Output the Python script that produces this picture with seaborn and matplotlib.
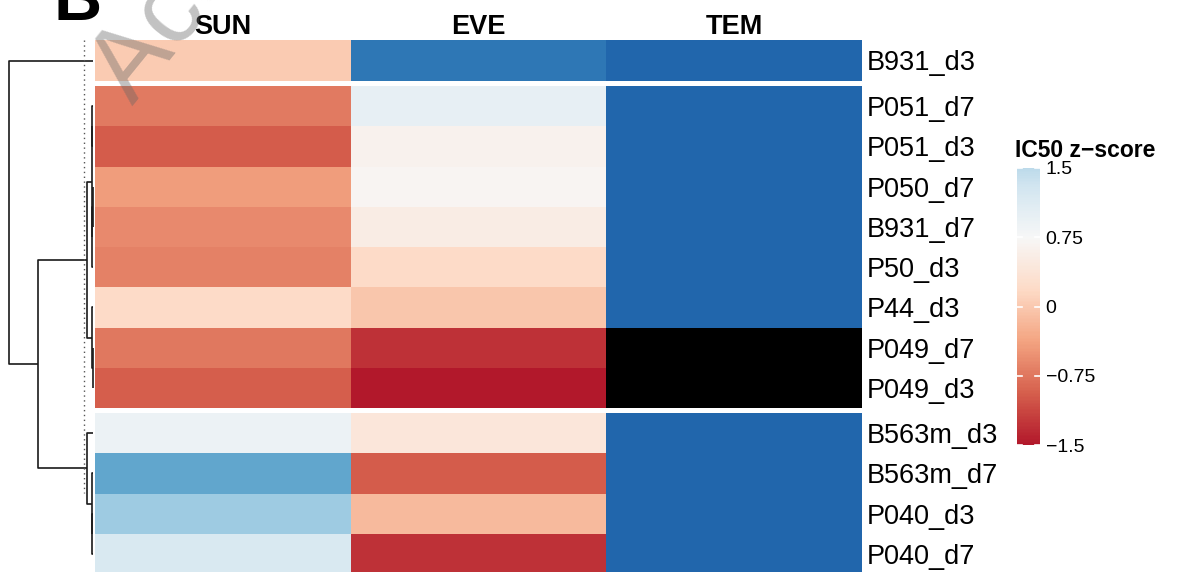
import numpy as np
import pandas as pd
import seaborn as sns
import matplotlib.pyplot as plt
from matplotlib.colors import LinearSegmentedColormap, ListedColormap, Normalize
from matplotlib.cm import ScalarMappable

plt.rcParams['font.family'] = ['Liberation Sans', 'DejaVu Sans']

# data
rows = ["B931_d3", "P051_d7", "P051_d3", "P050_d7", "B931_d7", "P50_d3", "P44_d3",
        "P049_d7", "P049_d3", "B563m_d3", "B563m_d7", "P040_d3", "P040_d7"]
cols = ["SUN", "EVE", "TEM"]
sun = [0.02, -0.71, -0.97, -0.43, -0.60, -0.66, 0.19, -0.74, -0.94, 0.92, 2.21, 1.76, 1.20]
eve = [2.78, 0.98, 0.64, 0.69, 0.53, 0.19, -0.04, -1.30, -1.49, 0.41, -0.97, -0.15, -1.29]
tem = [3.0, 3.0, 3.0, 3.0, 3.0, 3.0, 3.0, np.nan, np.nan, 3.0, 3.0, 3.0, 3.0]
group_sizes = [1, 8, 4]

# row dendrogram merges (left, right, height), new nodes numbered from 13
merges = [(1, 2, 0.07), (3, 4, 0.04), (14, 5, 0.08), (13, 15, 0.13),
          (7, 8, 0.05), (6, 17, 0.08), (16, 18, 0.6),
          (11, 12, 0.07), (10, 20, 0.13), (9, 21, 0.6),
          (19, 22, 5.5), (0, 23, 8.4)]
cut_height = 0.9

cbar_ticks = [-1.5, -0.75, 0, 0.75, 1.5]
cbar_labels = ["\u22121.5", "\u22120.75", "0", "0.75", "1.5"]

df = pd.DataFrame({"SUN": sun, "EVE": eve, "TEM": tem}, index=rows)

rdbu = ["#b2182b", "#d6604d", "#f4a582", "#fddbc7", "#f7f7f7",
        "#d1e5f0", "#92c5de", "#4393c3", "#2166ac"]
cmap = LinearSegmentedColormap.from_list("ic50", rdbu)
vmin, vmax = -1.5, 3.0

W, H = 1178, 572
fig = plt.figure(figsize=(W / 100, H / 100), dpi=100)


def px_box(x0, y0, x1, y1):
    return [x0 / W, 1 - y1 / H, (x1 - x0) / W, (y1 - y0) / H]


# heatmap slices
hm_x0, hm_x1 = 95, 862
slices = [(40, 81), (86, 408), (413, 574)]
leaf_y = []
start = 0
for gi, (n, (y0, y1)) in enumerate(zip(group_sizes, slices)):
    sub = df.iloc[start:start + n]
    ax = fig.add_axes(px_box(hm_x0, y0, hm_x1, y1))
    ax.set_facecolor("black")
    sns.heatmap(sub, ax=ax, cmap=cmap, vmin=vmin, vmax=vmax, cbar=False,
                xticklabels=(gi == 0), yticklabels=True)
    ax.tick_params(axis="y", left=False, right=False, labelleft=False,
                   labelright=True, pad=0, labelsize=19.5, labelrotation=0)
    if gi == 0:
        ax.tick_params(axis="x", bottom=False, top=False, labelbottom=False,
                       labeltop=True, pad=-3.5, labelsize=19.5, labelrotation=0)
        for t in ax.get_xticklabels():
            t.set_fontweight("bold")
    ax.set_xlabel("")
    ax.set_ylabel("")
    rh = (y1 - y0) / n
    leaf_y += [y0 + rh * (i + 0.5) for i in range(n)]
    start += n

# overlay for dendrogram, letters and watermark
ov = fig.add_axes([0, 0, 1, 1])
ov.set_xlim(0, W)
ov.set_ylim(H, 0)
ov.axis("off")
ov.patch.set_visible(False)

leaf_x, scale = 93, 10
pos = {i: (leaf_x, y) for i, y in enumerate(leaf_y)}
for k, (a, b, h) in enumerate(merges):
    xa, ya = pos[a]
    xb, yb = pos[b]
    xm = leaf_x - h * scale
    ov.plot([xa, xm, xm, xb], [ya, ya, yb, yb], color="#1a1a1a", lw=1.2,
            solid_capstyle="butt")
    pos[len(rows) + k] = (xm, (ya + yb) / 2)
ov.plot([leaf_x - cut_height * scale] * 2, [40, 493], color="#555555",
        lw=1, linestyle=(0, (1, 2.5)))

ov.text(53, 20, "B", fontsize=48, fontweight="bold", ha="left", va="baseline")
ov.text(133, 106, "Accepted Article", fontsize=75, color="0.4", alpha=0.4,
        rotation=51, rotation_mode="anchor", ha="left", va="baseline")

# colour legend (shows -1.5 .. 1.5)
cax = fig.add_axes(px_box(1017, 168, 1040, 445))
top = (1.5 - vmin) / (vmax - vmin)
leg_cmap = ListedColormap(cmap(np.linspace(0, top, 256)))
cb = fig.colorbar(ScalarMappable(norm=Normalize(-1.5, 1.5), cmap=leg_cmap),
                  cax=cax, ticks=cbar_ticks)
cb.outline.set_visible(False)
cb.ax.set_yticklabels(cbar_labels)
cb.ax.tick_params(length=0, pad=4, labelsize=14)
for t in cbar_ticks:
    cax.plot([0, 0.22], [t, t], color="white", lw=1.2)
    cax.plot([0.78, 1], [t, t], color="white", lw=1.2)
fig.text(1015 / W, 1 - 150 / H, "IC50 z\u2212score", fontsize=16.5,
         fontweight="bold", ha="left", va="center")

fig.savefig("out.png", dpi=100)
